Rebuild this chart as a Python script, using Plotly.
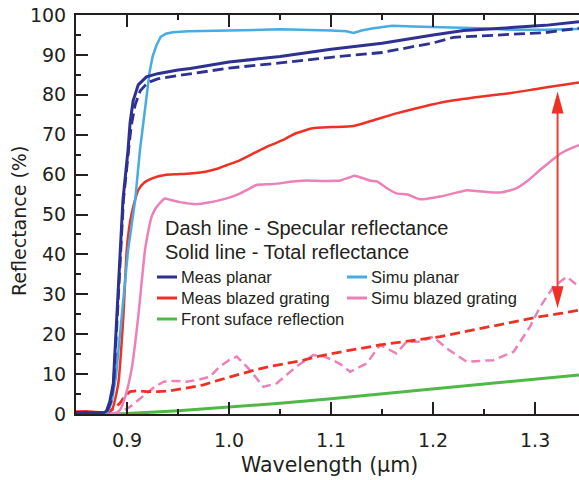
import plotly.graph_objects as go

# ---- Reflectance spectra (wavelength in um, reflectance in %) ----
# Measured planar, total reflectance
WL_MEAS_PLANAR_TOT = [0.850, 0.860, 0.870, 0.878, 0.880, 0.883, 0.8866, 0.890, 0.893, 0.896, 0.901,
                      0.903, 0.906, 0.911, 0.919, 0.930, 0.950, 0.962, 1.000, 1.050, 1.100, 1.150,
                      1.200, 1.230, 1.280, 1.310, 1.343]
R_MEAS_PLANAR_TOT = [0.4, 0.3, 0.3, 0.4, 0.8, 3.0, 7.7, 24.4, 41.0, 53.6, 66.2,
                     73.0, 78.5, 82.5, 84.5, 85.3, 86.2, 86.6, 88.2, 89.6, 91.4, 92.9,
                     95.0, 96.1, 96.9, 97.4, 98.3]

# Measured planar, specular reflectance
WL_MEAS_PLANAR_SPEC = [0.850, 0.870, 0.879, 0.881, 0.884, 0.887, 0.8905, 0.8935, 0.8965, 0.9015,
                       0.904, 0.908, 0.913, 0.920, 0.930, 0.950, 1.000, 1.050, 1.100, 1.150,
                       1.200, 1.220, 1.250, 1.280, 1.310, 1.343]
R_MEAS_PLANAR_SPEC = [0.2, 0.2, 0.4, 1.0, 3.0, 8.0, 24.4, 41.0, 53.6, 66.0,
                      72.0, 77.5, 81.0, 83.0, 84.0, 84.8, 86.7, 88.0, 89.4, 90.6,
                      93.0, 94.4, 94.8, 95.1, 95.6, 96.7]

# Simulated planar
WL_SIMU_PLANAR = [0.850, 0.870, 0.879, 0.8814, 0.885, 0.889, 0.8948, 0.901, 0.908, 0.9127, 0.916,
                  0.919, 0.922, 0.925, 0.929, 0.933, 0.938, 0.945, 0.960, 1.000, 1.050, 1.100,
                  1.115, 1.122, 1.130, 1.140, 1.150, 1.160, 1.180, 1.200, 1.220, 1.246, 1.278,
                  1.310, 1.343]
R_SIMU_PLANAR = [0.2, 0.2, 0.2, 0.6, 3.0, 9.0, 24.4, 41.0, 53.6, 66.2, 73.0,
                 80.0, 85.5, 89.5, 92.5, 94.5, 95.3, 95.7, 95.9, 96.1, 96.4, 96.1,
                 95.9, 95.5, 96.1, 96.6, 97.0, 97.3, 97.1, 97.0, 96.9, 96.7, 96.3,
                 96.3, 96.5]

# Measured blazed grating, total reflectance
WL_MEAS_BLAZED_TOT = [0.850, 0.860, 0.870, 0.878, 0.882, 0.886, 0.8915, 0.8964, 0.8997, 0.902,
                      0.9046, 0.908, 0.911, 0.917, 0.924, 0.937, 0.950, 0.962, 0.978, 0.990,
                      0.998, 1.010, 1.027, 1.040, 1.053, 1.065, 1.082, 1.100, 1.122, 1.140,
                      1.165, 1.190, 1.213, 1.246, 1.278, 1.300, 1.320, 1.343]
R_MEAS_BLAZED_TOT = [0.6, 0.7, 0.5, 0.4, 0.5, 1.5, 7.7, 24.4, 41.0, 46.5,
                     50.3, 53.8, 56.1, 58.0, 59.0, 59.9, 60.1, 60.3, 60.8, 61.6,
                     62.4, 63.5, 65.7, 67.3, 68.7, 70.3, 71.6, 71.9, 72.2, 73.5,
                     75.4, 77.0, 78.3, 79.5, 80.5, 81.4, 82.2, 83.1]

# Measured blazed grating, specular reflectance
WL_MEAS_BLAZED_SPEC = [0.878, 0.884, 0.889, 0.893, 0.898, 0.903, 0.910, 0.919, 0.930, 0.942,
                       0.958, 0.975, 0.990, 1.0075, 1.025, 1.040, 1.057, 1.073, 1.090, 1.109,
                       1.119, 1.148, 1.175, 1.207, 1.230, 1.256, 1.280, 1.305, 1.325, 1.343]
R_MEAS_BLAZED_SPEC = [0.3, 0.8, 1.8, 2.7, 4.5, 5.6, 5.8, 5.6, 5.6, 5.8,
                      6.5, 7.3, 8.5, 9.8, 11.0, 11.9, 12.7, 13.5, 14.6, 15.4,
                      16.0, 17.3, 18.3, 19.4, 20.6, 21.9, 23.2, 24.4, 25.2, 26.0]

# Simulated blazed grating, total reflectance
WL_SIMU_BLAZED_TOT = [0.850, 0.880, 0.888, 0.893, 0.899, 0.905, 0.911, 0.9176, 0.921, 0.924,
                      0.928, 0.932, 0.937, 0.942, 0.952, 0.968, 0.980, 0.991, 1.001, 1.011,
                      1.020, 1.027, 1.040, 1.050, 1.060, 1.076, 1.090, 1.109, 1.117, 1.123,
                      1.130, 1.138, 1.145, 1.148, 1.156, 1.164, 1.175, 1.187, 1.197, 1.207,
                      1.220, 1.233, 1.245, 1.255, 1.266, 1.275, 1.282, 1.293, 1.305, 1.315,
                      1.325, 1.335, 1.343]
R_SIMU_BLAZED_TOT = [0.1, 0.1, 0.2, 1.0, 5.0, 12.0, 24.4, 41.0, 46.0, 49.4,
                     51.5, 52.8, 54.0, 53.7, 53.1, 52.6, 53.0, 53.6, 54.3, 55.3,
                     56.5, 57.4, 57.6, 57.8, 58.2, 58.5, 58.4, 58.5, 59.2, 59.7,
                     59.2, 58.5, 58.3, 57.8, 56.4, 55.3, 55.0, 53.8, 54.1, 54.5,
                     55.3, 56.1, 55.8, 55.6, 55.5, 56.0, 56.6, 58.5, 61.2, 63.3,
                     65.3, 66.6, 67.4]

# Simulated blazed grating, specular reflectance
WL_SIMU_BLAZED_SPEC = [0.885, 0.893, 0.903, 0.911, 0.919, 0.927, 0.936, 0.947, 0.9585, 0.970,
                       0.981, 0.991, 1.000, 1.0075, 1.0206, 1.0336, 1.0468, 1.056, 1.066, 1.0826,
                       1.092, 1.102, 1.109, 1.1186, 1.135, 1.148, 1.158, 1.164, 1.174, 1.187,
                       1.200, 1.213, 1.223, 1.233, 1.246, 1.259, 1.279, 1.295, 1.305, 1.318,
                       1.331, 1.343]
R_SIMU_BLAZED_SPEC = [0.0, 0.3, 1.8, 3.5, 5.2, 6.8, 8.1, 8.3, 8.1, 8.6,
                      9.3, 11.9, 13.5, 14.4, 11.0, 6.8, 7.7, 9.8, 11.9, 14.8,
                      14.5, 13.5, 12.5, 10.6, 12.7, 17.3, 16.0, 15.2, 18.1, 18.1,
                      19.4, 16.5, 14.8, 13.1, 13.3, 13.5, 15.6, 21.9, 26.9, 31.9,
                      34.4, 31.9]

# Front surface reflection
WL_FRONT = [0.880, 0.900, 0.950, 1.000, 1.050, 1.100, 1.150, 1.200, 1.250, 1.300, 1.343]
R_FRONT = [0.0, 0.1, 0.8, 1.7, 2.7, 3.8, 5.0, 6.2, 7.4, 8.6, 9.8]

# Double arrow marking the specular/total gap of the blazed grating
ARROW_WL = 1.322
ARROW_TOP = 80.8
ARROW_BOTTOM = 26.5

# Axis ticks
X_TICKS = [0.9, 1.0, 1.1, 1.2, 1.3]
X_TICK_TEXT = ["0.9", "1.0", "1.1", "1.2", "1.3"]
X_MINOR = [0.95, 1.05, 1.15, 1.25]
Y_TICKS = [0, 10, 20, 30, 40, 50, 60, 70, 80, 90, 100]

LEGEND_HEADERS = ["Dash line - Specular reflectance", "Solid line - Total reflectance"]
LEGEND_LEFT = ["Meas planar", "Meas blazed grating", "Front suface reflection"]
LEGEND_RIGHT = ["Simu planar", "Simu blazed grating"]

NAVY = "#2E3192"
SKY = "#46ACE2"
RED = "#EE3124"
PINK = "#EC80B8"
GREEN = "#4FB847"
INK = "#231F20"
ARROW_RED = "#EE4035"

LEFT_COLORS = [NAVY, RED, GREEN]
RIGHT_COLORS = [SKY, PINK]

X_RANGE = [0.85, 1.343]
Y_RANGE = [0, 100]

# plot-area geometry in pixels
W, H = 579, 480
ML, MR, MT, MB = 76, 0, 15, 66
PW = W - ML - MR
PH = H - MT - MB


def px_to_paper_x(px):
    return (px - ML) / PW


def py_to_paper_y(py):
    return (H - MB - py) / PH


fig = go.Figure()


def add_line(x, y, color, width, dash="solid", smooth=False):
    line = dict(color=color, width=width, dash=dash)
    if smooth:
        line.update(shape="spline", smoothing=0.5)
    fig.add_trace(go.Scatter(x=x, y=y, mode="lines", showlegend=False, hoverinfo="skip",
                             line=line))


add_line(WL_FRONT, R_FRONT, GREEN, 3)
add_line(WL_SIMU_BLAZED_SPEC, R_SIMU_BLAZED_SPEC, PINK, 2.5, "9px,5px")
add_line(WL_MEAS_BLAZED_SPEC, R_MEAS_BLAZED_SPEC, RED, 2.8, "10px,5px")
add_line(WL_SIMU_BLAZED_TOT, R_SIMU_BLAZED_TOT, PINK, 2.5, smooth=True)
add_line(WL_MEAS_BLAZED_TOT, R_MEAS_BLAZED_TOT, RED, 2.5, smooth=True)
add_line(WL_SIMU_PLANAR, R_SIMU_PLANAR, SKY, 2.5)
add_line(WL_MEAS_PLANAR_SPEC, R_MEAS_PLANAR_SPEC, NAVY, 2.8, "11px,5px")
add_line(WL_MEAS_PLANAR_TOT, R_MEAS_PLANAR_TOT, NAVY, 3)

shapes = []
annotations = []

# double-headed arrow (narrow heads) in data coordinates
head_len = 22 * (Y_RANGE[1] - Y_RANGE[0]) / PH
head_half = 6 * (X_RANGE[1] - X_RANGE[0]) / PW
shapes.append(dict(type="line", xref="x", yref="y", x0=ARROW_WL, x1=ARROW_WL,
                   y0=ARROW_BOTTOM + head_len * 0.8, y1=ARROW_TOP - head_len * 0.8,
                   line=dict(color=ARROW_RED, width=2)))
shapes.append(dict(type="path", xref="x", yref="y", fillcolor=RED, line=dict(width=0),
                   path=f"M{ARROW_WL},{ARROW_TOP} L{ARROW_WL - head_half},{ARROW_TOP - head_len} "
                        f"L{ARROW_WL + head_half},{ARROW_TOP - head_len} Z"))
shapes.append(dict(type="path", xref="x", yref="y", fillcolor=RED, line=dict(width=0),
                   path=f"M{ARROW_WL},{ARROW_BOTTOM} L{ARROW_WL - head_half},{ARROW_BOTTOM + head_len} "
                        f"L{ARROW_WL + head_half},{ARROW_BOTTOM + head_len} Z"))

# legend block
LEG_FONT = dict(family="Liberation Sans, Arial, sans-serif", size=16.5, color=INK)
HEAD_FONT = dict(family="Liberation Sans, Arial, sans-serif", size=20, color=INK)
for i, text in enumerate(LEGEND_HEADERS):
    annotations.append(dict(text=text, xref="paper", yref="paper", showarrow=False,
                            x=px_to_paper_x(163), y=py_to_paper_y(228 + 24 * i),
                            xanchor="left", yanchor="middle", font=HEAD_FONT))


def legend_column(names, colors, x_line, x_text):
    for i, (name, col) in enumerate(zip(names, colors)):
        py = 277 + 21 * i
        shapes.append(dict(type="line", xref="paper", yref="paper",
                           x0=px_to_paper_x(x_line), x1=px_to_paper_x(x_line + 20),
                           y0=py_to_paper_y(py), y1=py_to_paper_y(py),
                           line=dict(color=col, width=3)))
        annotations.append(dict(text=name, xref="paper", yref="paper", showarrow=False,
                                x=px_to_paper_x(x_text), y=py_to_paper_y(py),
                                xanchor="left", yanchor="middle", font=LEG_FONT))


legend_column(LEGEND_LEFT, LEFT_COLORS, 157, 179)
legend_column(LEGEND_RIGHT, RIGHT_COLORS, 347, 369)

AX_FONT = dict(family="DejaVu Sans, sans-serif", size=19, color=INK)
TITLE_FONT = dict(family="DejaVu Sans, sans-serif", size=20.5, color=INK)
annotations.append(dict(text="Wavelength (μm)", xref="paper", yref="paper", showarrow=False,
                        x=px_to_paper_x(329), y=py_to_paper_y(465),
                        xanchor="center", yanchor="middle", font=TITLE_FONT))
annotations.append(dict(text="Reflectance (%)", xref="paper", yref="paper", showarrow=False,
                        x=px_to_paper_x(19), y=py_to_paper_y(221), textangle=-90,
                        xanchor="center", yanchor="middle", font=AX_FONT))

tick_common = dict(ticks="inside", ticklen=12, tickwidth=2, tickcolor=INK,
                   showgrid=False, zeroline=False)

fig.update_layout(
    width=W, height=H,
    margin=dict(l=ML, r=MR, t=MT, b=MB, pad=0),
    plot_bgcolor="white", paper_bgcolor="white",
    shapes=shapes, annotations=annotations,
    xaxis=dict(range=X_RANGE, tickvals=X_TICKS, ticktext=X_TICK_TEXT,
               showline=True, linewidth=2, linecolor=INK, mirror="ticks",
               minor=dict(tickvals=X_MINOR, ticks="inside", ticklen=5, tickwidth=2, tickcolor=INK),
               tickfont=AX_FONT, ticklabelstandoff=8, **tick_common),
    yaxis=dict(range=Y_RANGE, tickvals=Y_TICKS,
               showline=True, linewidth=2, linecolor=INK, mirror=False,
               minor=dict(dtick=5, ticks="inside", ticklen=5, tickwidth=2, tickcolor=INK),
               tickfont=AX_FONT, ticklabelstandoff=4, **tick_common),
    yaxis2=dict(range=Y_RANGE, tickvals=Y_TICKS, overlaying="y", side="right", anchor="x",
                showline=False, showticklabels=False,
                minor=dict(dtick=5, ticks="inside", ticklen=5, tickwidth=2, tickcolor=INK),
                **tick_common),
)

fig.write_html("out.html")
